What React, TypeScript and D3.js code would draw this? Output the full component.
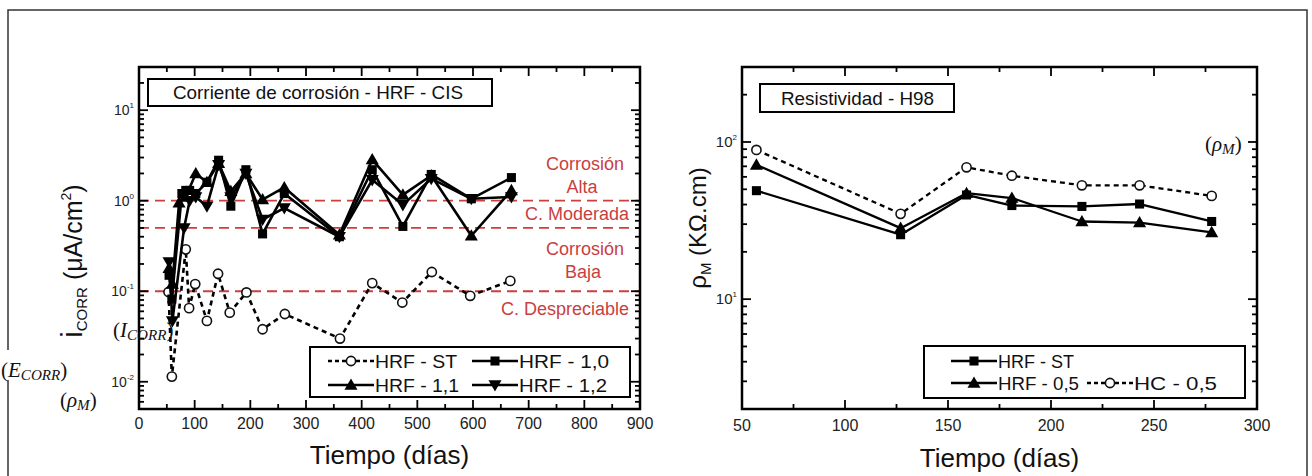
import React from "react";
import * as d3 from "d3";

// ---------- DATA ----------
// Left chart: corrosion current (µA/cm²) vs time (days)
const stDays = [53, 59, 84, 90, 101, 122, 142, 163, 193, 222, 262, 361, 419, 473, 526, 595, 667];
const stVals = [0.098, 0.0114, 0.29, 0.065, 0.12, 0.047, 0.156, 0.058, 0.097, 0.038, 0.056, 0.03, 0.123, 0.075, 0.163, 0.089, 0.13];

const h10Days = [54, 59, 77, 84, 91, 102, 122, 143, 165, 192, 222, 261, 360, 419, 474, 525, 597, 669];
const h10Vals = [0.15, 0.082, 1.2, 1.3, 1.3, 1.2, 1.6, 2.8, 0.87, 2.2, 0.43, 1.2, 0.4, 2.2, 0.52, 1.95, 1.05, 1.8];

const h11Days = [54, 60, 72, 84, 102, 122, 143, 165, 192, 222, 261, 360, 419, 474, 525, 597, 669];
const h11Vals = [0.18, 0.12, 0.95, 1.1, 2.0, 1.6, 2.6, 1.27, 2.0, 1.03, 1.4, 0.42, 2.85, 1.16, 1.9, 0.41, 1.3];

const h12Days = [54, 60, 81, 91, 102, 122, 143, 165, 192, 222, 261, 360, 419, 474, 525, 597, 669];
const h12Vals = [0.21, 0.047, 0.5, 1.0, 1.1, 0.87, 2.5, 1.1, 2.0, 0.62, 0.83, 0.4, 1.7, 0.9, 1.75, 1.05, 1.1];

const thresholds = [1.0, 0.5, 0.1];

// Right chart: resistivity (KΩ.cm) vs time (days)
const rDays = [57, 127, 159, 181, 215, 243, 278];
const rST = [49, 25.7, 46, 39.4, 38.9, 40.3, 31.2];
const r05 = [71.5, 28.3, 47.2, 44, 31.2, 30.7, 26.6];
const rHC = [89, 34.9, 69, 61, 53, 53, 45.4];

const xTicksL = [0, 100, 200, 300, 400, 500, 600, 700, 800, 900];
const xTicksR = [50, 100, 150, 200, 250, 300];
const yDecL = [{ v: 10, e: "1" }, { v: 1, e: "0" }, { v: 0.1, e: "-1" }, { v: 0.01, e: "-2" }];
const yDecR = [{ v: 100, e: "2" }, { v: 10, e: "1" }];

// ---------- LAYOUT ----------
const LP = { x0: 139, x1: 640, y0: 67, y1: 409 };
const RP = { x0: 742, x1: 1257, y0: 67, y1: 409 };

const xL = d3.scaleLinear().domain([0, 900]).range([LP.x0, LP.x1]);
const yL = d3.scaleLog().domain([0.005, 30]).range([LP.y1, LP.y0]);
const xR = d3.scaleLinear().domain([50, 300]).range([RP.x0, RP.x1]);
const yR = d3.scaleLog().domain([2, 300]).range([RP.y1, RP.y0]);

const SANS = "'Liberation Sans', Arial, Helvetica, sans-serif";
const SERIF = "'Liberation Serif', 'DejaVu Serif', serif";
const RED = "#c9403f";

function logMinor(lo: number, hi: number) {
  const out: number[] = [];
  for (let p = -3; p <= 3; p++) {
    for (let k = 2; k <= 9; k++) {
      const v = k * Math.pow(10, p);
      if (v >= lo * 0.999 && v <= hi * 1.001) out.push(v);
    }
  }
  return out;
}

const square = d3.symbol().type(d3.symbolSquare).size(82)()!;
const tri = d3.symbol().type(d3.symbolTriangle).size(74)()!;

function Marker({ kind, x, y }: { kind: string; x: number; y: number }) {
  if (kind === "circle") return <circle cx={x} cy={y} r={4.6} fill="#fff" stroke="#111" strokeWidth={1.6} />;
  if (kind === "square") return <path d={square} transform={`translate(${x},${y})`} fill="#000" />;
  if (kind === "up") return <path d={tri} transform={`translate(${x},${y + 1})`} fill="#000" />;
  return <path d={tri} transform={`translate(${x},${y - 1}) rotate(180)`} fill="#000" />;
}

function Series({ xs, ys, sx, sy, kind, dashed, width }: any) {
  const pts: [number, number][] = xs.map((d: number, i: number) => [sx(d), sy(ys[i])]);
  const line = d3.line()(pts)!;
  return (
    <g>
      <path d={line} fill="none" stroke="#000" strokeWidth={width} strokeDasharray={dashed ? "5,4" : undefined} strokeLinejoin="round" />
      {pts.map((p, i) => (
        <Marker key={i} kind={kind} x={p[0]} y={p[1]} />
      ))}
    </g>
  );
}

function tickLines(P: any, sx: any, sy: any, xMajor: number[], xMinor: number[], yMajor: number[], yMinor: number[]) {
  const out: any[] = [];
  let k = 0;
  const L = (x1: number, y1: number, x2: number, y2: number) =>
    out.push(<line key={k++} x1={x1} y1={y1} x2={x2} y2={y2} stroke="#000" strokeWidth={1.8} />);
  xMajor.forEach((v) => { const p = sx(v); L(p, P.y1, p, P.y1 - 9); L(p, P.y0, p, P.y0 + 9); });
  xMinor.forEach((v) => { const p = sx(v); L(p, P.y1, p, P.y1 - 5); L(p, P.y0, p, P.y0 + 5); });
  yMajor.forEach((v) => { const p = sy(v); L(P.x0, p, P.x0 + 9, p); L(P.x1, p, P.x1 - 9, p); });
  yMinor.forEach((v) => { const p = sy(v); L(P.x0, p, P.x0 + 5, p); L(P.x1, p, P.x1 - 5, p); });
  return out;
}

function LegendEntry({ x, y, kind, dashed, label, len }: any) {
  return (
    <g>
      <line x1={x} x2={x + 46} y1={y} y2={y} stroke="#000" strokeWidth={2.4} strokeDasharray={dashed ? "4,3" : undefined} />
      <Marker kind={kind} x={x + 23} y={y} />
      <text x={x + 47} y={y + 6.5} fontSize={18} fontFamily={SANS} fill="#111" textLength={len} lengthAdjust="spacingAndGlyphs">
        {label}
      </text>
    </g>
  );
}

function MathLabel({ x, y, sym, sub, size = 21 }: any) {
  return (
    <text x={x} y={y} fontFamily={SERIF} fontSize={size} fill="#111">
      (<tspan fontStyle="italic">{sym}</tspan>
      <tspan fontStyle="italic" fontSize={size * 0.72} dy={3}>{sub}</tspan>
      <tspan dy={-3}>)</tspan>
    </text>
  );
}

export default function App() {
  const xMinorL = d3.range(50, 900, 100);
  const xMinorR = d3.range(75, 300, 50);
  const yMinorL = logMinor(0.005, 30);
  const yMinorR = logMinor(2, 300);

  return (
    <svg width={1312} height={476} style={{ position: "absolute", left: 0, top: 0, background: "#fff" }} fontFamily={SANS}>
      <rect x={0} y={0} width={1312} height={476} fill="#fff" />
      <rect x={8} y={10} width={1299} height={480} fill="none" stroke="#333" strokeWidth={1.5} />

      {/* ===== LEFT CHART ===== */}
      {thresholds.map((v, i) => (
        <line key={i} x1={LP.x0} x2={LP.x1} y1={yL(v)} y2={yL(v)} stroke={RED} strokeWidth={1.8} strokeDasharray="10,6" />
      ))}
      <Series xs={stDays} ys={stVals} sx={xL} sy={yL} kind="circle" dashed width={2.6} />
      <Series xs={h12Days} ys={h12Vals} sx={xL} sy={yL} kind="down" width={2.6} />
      <Series xs={h11Days} ys={h11Vals} sx={xL} sy={yL} kind="up" width={2.6} />
      <Series xs={h10Days} ys={h10Vals} sx={xL} sy={yL} kind="square" width={2.6} />
      <rect x={LP.x0} y={LP.y0} width={LP.x1 - LP.x0} height={LP.y1 - LP.y0} fill="none" stroke="#000" strokeWidth={2.5} />
      {tickLines(LP, xL, yL, xTicksL, xMinorL, yDecL.map((d) => d.v), yMinorL)}

      <rect x={148} y={79} width={344} height={27} fill="#fff" stroke="#000" strokeWidth={2} />
      <text x={173} y={99} fontSize={18.5} fill="#111" textLength={290} lengthAdjust="spacingAndGlyphs">
        Corriente de corrosión - HRF - CIS
      </text>

      <g fill={RED} fontSize={18}>
        <text x={585} y={169.5} textAnchor="middle">Corrosión</text>
        <text x={582} y={193} textAnchor="middle">Alta</text>
        <text x={629} y={219.5} textAnchor="end">C. Moderada</text>
        <text x={585} y={254.5} textAnchor="middle">Corrosión</text>
        <text x={583} y={278} textAnchor="middle">Baja</text>
        <text x={629} y={314.5} textAnchor="end">C. Despreciable</text>
      </g>

      <rect x={310} y={347} width={320} height={50} fill="#fff" stroke="#000" strokeWidth={2} />
      <LegendEntry x={328} y={361} kind="circle" dashed label="HRF - ST" len={82} />
      <LegendEntry x={472} y={361} kind="square" label="HRF - 1,0" len={90} />
      <LegendEntry x={328} y={385} kind="up" label="HRF - 1,1" len={84} />
      <LegendEntry x={472} y={385} kind="down" label="HRF - 1,2" len={88} />

      <g fontSize={16} fill="#222" textAnchor="middle">
        {xTicksL.map((v) => (
          <text key={v} x={xL(v)} y={429}>{v}</text>
        ))}
      </g>
      <g fontSize={14} fill="#222" textAnchor="end">
        {yDecL.map((d) => (
          <text key={d.e} x={134} y={yL(d.v) + 5}>
            10<tspan fontSize={8} dy={-7}>{d.e}</tspan>
          </text>
        ))}
      </g>
      <text x={389.5} y={464} fontSize={26} textAnchor="middle" fill="#111">Tiempo (días)</text>
      <text transform="translate(82,261) rotate(-90)" textAnchor="middle" fontSize={25} fill="#111">
        <tspan fontSize={29}>i</tspan>
        <tspan fontSize={15} dy={5}>CORR</tspan>
        <tspan dy={-5}> (μA/cm</tspan>
        <tspan fontSize={14} dy={-11}>2</tspan>
        <tspan dy={11}>)</tspan>
      </text>

      {/* ===== RIGHT CHART ===== */}
      <Series xs={rDays} ys={rHC} sx={xR} sy={yR} kind="circle" dashed width={2.3} />
      <Series xs={rDays} ys={r05} sx={xR} sy={yR} kind="up" width={2.3} />
      <Series xs={rDays} ys={rST} sx={xR} sy={yR} kind="square" width={2.3} />
      <rect x={RP.x0} y={RP.y0} width={RP.x1 - RP.x0} height={RP.y1 - RP.y0} fill="none" stroke="#000" strokeWidth={2.5} />
      {tickLines(RP, xR, yR, xTicksR, xMinorR, yDecR.map((d) => d.v), yMinorR)}

      <rect x={760} y={84} width={194} height={28} fill="#fff" stroke="#000" strokeWidth={2} />
      <text x={781} y={104.5} fontSize={18.5} fill="#111" textLength={153} lengthAdjust="spacingAndGlyphs">
        Resistividad - H98
      </text>

      <rect x={924} y={346} width={321} height={52} fill="#fff" stroke="#000" strokeWidth={2} />
      <LegendEntry x={951} y={361} kind="square" label="HRF - ST" len={76} />
      <LegendEntry x={951} y={383} kind="up" label="HRF - 0,5" len={81} />
      <LegendEntry x={1087} y={383} kind="circle" dashed label="HC - 0,5" len={83} />

      <g fontSize={16} fill="#222" textAnchor="middle">
        {xTicksR.map((v) => (
          <text key={v} x={xR(v)} y={431}>{v}</text>
        ))}
      </g>
      <g fontSize={15} fill="#222" textAnchor="end">
        {yDecR.map((d) => (
          <text key={d.e} x={737} y={yR(d.v) + 5}>
            10<tspan fontSize={8} dy={-7}>{d.e}</tspan>
          </text>
        ))}
      </g>
      <text x={999.5} y={467} fontSize={26} textAnchor="middle" fill="#111">Tiempo (días)</text>
      <text transform="translate(706,228) rotate(-90)" textAnchor="middle" fontSize={24} fill="#111">
        <tspan>ρ</tspan>
        <tspan fontSize={15} dy={5}>M</tspan>
        <tspan dy={-5}> (KΩ.cm)</tspan>
      </text>

      <rect x={0} y={350} width={74} height={30} fill="#fff" />
      <MathLabel x={113} y={337} sym="I" sub="CORR" />
      <MathLabel x={1} y={377} sym="E" sub="CORR" />
      <MathLabel x={60} y={407} sym="ρ" sub="M" />
      <MathLabel x={1205} y={151} sym="ρ" sub="M" />
    </svg>
  );
}
